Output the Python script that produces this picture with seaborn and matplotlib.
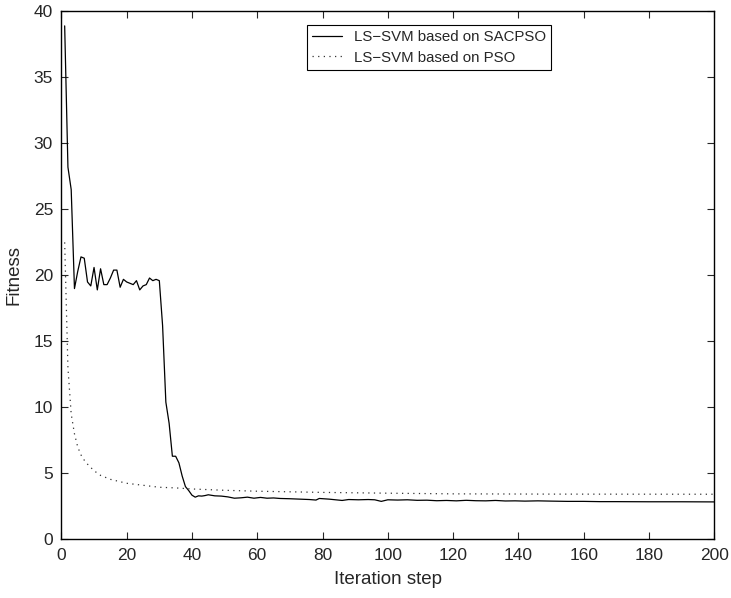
import numpy as np
import pandas as pd
import matplotlib
matplotlib.use('Agg')
import matplotlib.pyplot as plt
import seaborn as sns

sns.set_style('ticks')
plt.rcParams['font.family'] = ['Liberation Sans', 'DejaVu Sans']

# LS-SVM based on SACPSO
sacpso_step = [1, 2, 3, 4, 5, 6, 7, 8, 9, 10,
               11, 12, 13, 14, 15, 16, 17, 18, 19, 20,
               21, 22, 23, 24, 25, 26, 27, 28, 29, 30,
               31, 32, 33, 34, 35, 36, 37, 38, 39, 40,
               41, 42, 43, 44, 45, 47, 49, 51, 53, 55,
               57, 59, 61, 63, 65, 67, 70, 73, 76, 78,
               79, 82, 86, 88, 91, 94, 96, 98, 100, 103,
               106, 109, 112, 115, 118, 121, 124, 127, 130, 133,
               136, 139, 142, 146, 150, 155, 160, 165, 170, 180,
               190, 200]
sacpso_fit = [38.9, 28.2, 26.5, 19.0, 20.3, 21.4, 21.3, 19.5, 19.2, 20.6,
              18.9, 20.5, 19.3, 19.3, 19.8, 20.4, 20.4, 19.1, 19.7, 19.5,
              19.4, 19.3, 19.6, 18.9, 19.2, 19.3, 19.8, 19.6, 19.7, 19.6,
              16.2, 10.4, 8.8, 6.3, 6.3, 5.8, 4.8, 4.0, 3.7, 3.35,
              3.2, 3.3, 3.28, 3.32, 3.38, 3.3, 3.28, 3.22, 3.12, 3.15,
              3.2, 3.12, 3.18, 3.12, 3.14, 3.1, 3.08, 3.05, 3.02, 2.98,
              3.1, 3.05, 2.95, 3.02, 3.0, 3.02, 3.0, 2.88, 3.0, 2.98,
              3.0, 2.96, 2.97, 2.93, 2.95, 2.92, 2.96, 2.93, 2.92, 2.95,
              2.91, 2.92, 2.9, 2.92, 2.9, 2.88, 2.88, 2.86, 2.86, 2.85,
              2.85, 2.84]

# LS-SVM based on PSO
pso_step = [1, 2, 3, 4, 5, 6, 7, 8, 10, 12, 15, 20, 25, 30, 35, 40,
            50, 60, 80, 100, 120, 150, 200]
pso_fit = [22.5, 13.0, 9.5, 8.0, 7.0, 6.4, 6.0, 5.7, 5.2, 4.85, 4.55, 4.25,
           4.1, 3.95, 3.9, 3.82, 3.72, 3.65, 3.56, 3.5, 3.45, 3.43, 3.42]

x_ticks = list(range(0, 201, 20))
y_ticks = list(range(0, 41, 5))

fig = plt.figure(figsize=(7.31, 5.98), dpi=100)
ax = fig.add_axes([0.084, 0.098, 0.893, 0.883])

sns.lineplot(x=sacpso_step, y=sacpso_fit, ax=ax, color='black', lw=0.9,
             estimator=None, sort=False, label='LS\u2212SVM based on SACPSO')
sns.lineplot(x=pso_step, y=pso_fit, ax=ax, color='#333333', lw=0.9,
             linestyle=(0, (1, 3.5)), estimator=None, sort=False,
             label='LS\u2212SVM based on PSO')

ax.set_xlim(0, 200)
ax.set_ylim(0, 40)
ax.set_xticks(x_ticks)
ax.set_yticks(y_ticks)
ax.tick_params(direction='in', top=True, right=True, length=5, width=0.8,
               labelsize=12.5, pad=6)
for s in ax.spines.values():
    s.set_visible(True)
    s.set_linewidth(1.0)
    s.set_color('black')

ax.set_xlabel('Iteration step', fontsize=13.5, labelpad=6)
ax.set_ylabel('Fitness', fontsize=13.5, labelpad=8)

leg = ax.legend(loc='upper left', bbox_to_anchor=(0.376, 0.975), fontsize=10.8,
                frameon=True, fancybox=False, shadow=False, framealpha=1,
                edgecolor='black', borderaxespad=0, borderpad=0.35,
                handlelength=2.0, handletextpad=0.8, labelspacing=0.45)
leg.get_frame().set_linewidth(0.8)

fig.savefig('out.png', dpi=100)
